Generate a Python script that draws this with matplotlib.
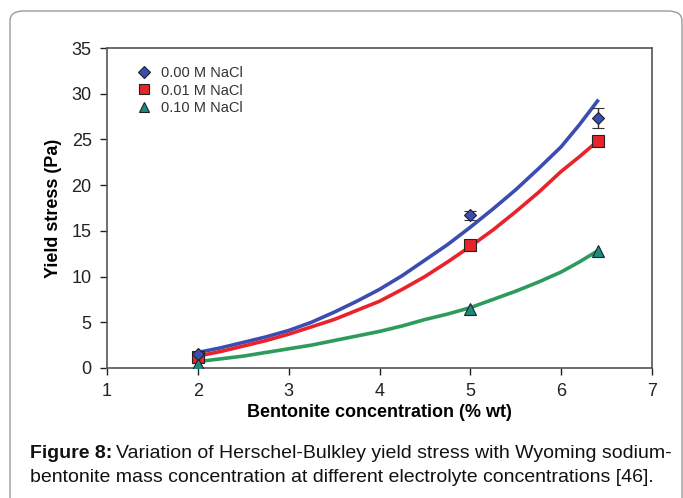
import matplotlib

matplotlib.use("Agg")
import matplotlib.pyplot as plt
from matplotlib.patches import FancyBboxPatch
from matplotlib.lines import Line2D

plt.rcParams["font.family"] = ["Liberation Sans", "DejaVu Sans"]

# measured points (bentonite % wt vs yield stress, Pa)
conc = [2.0, 5.0, 6.4]
ys_000 = [1.5, 16.7, 27.3]
err_000 = [0.3, 0.5, 1.1]
ys_001 = [1.2, 13.5, 24.8]
ys_010 = [0.4, 6.4, 12.8]

# fitted curves
fit_x = [2.0, 2.25, 2.5, 2.75, 3.0, 3.25, 3.5, 3.75, 4.0, 4.25, 4.5, 4.75,
         5.0, 5.25, 5.5, 5.75, 6.0, 6.2, 6.4]
fit_000 = [1.7, 2.2, 2.8, 3.4, 4.1, 5.0, 6.1, 7.3, 8.6, 10.1, 11.8, 13.5,
           15.4, 17.4, 19.5, 21.8, 24.2, 26.6, 29.2]
fit_001 = [1.3, 1.8, 2.4, 3.0, 3.7, 4.5, 5.3, 6.3, 7.3, 8.6, 10.0, 11.6,
           13.3, 15.1, 17.1, 19.2, 21.5, 23.1, 24.8]
fit_010 = [0.7, 1.0, 1.3, 1.7, 2.1, 2.5, 3.0, 3.5, 4.0, 4.6, 5.3, 5.9,
           6.6, 7.5, 8.4, 9.4, 10.5, 11.6, 12.8]

labels = ["0.00 M NaCl", "0.01 M NaCl", "0.10 M NaCl"]

W, H = 683, 498
fig = plt.figure(figsize=(W / 100, H / 100), dpi=100)

# rounded outer frame
frame = FancyBboxPatch((10 / W, -0.1), 672 / W, 1 - 11 / H + 0.1,
                       boxstyle="round,pad=0,rounding_size=0.02",
                       transform=fig.transFigure, fill=False,
                       edgecolor="#9a9a9a", lw=1.0)
fig.patches.append(frame)

ax = fig.add_axes([107 / W, 1 - 368 / H, 545 / W, 320 / H])

ax.plot(fit_x, fit_000, color="#3b4db0", lw=2.6, zorder=2)
ax.plot(fit_x, fit_001, color="#e8232b", lw=2.6, zorder=2)
ax.plot(fit_x, fit_010, color="#2e9a5c", lw=2.6, zorder=2)

ax.errorbar(conc, ys_000, yerr=err_000, fmt="D", ms=6.5, mfc="#3b4db0",
            mec="#222222", mew=0.8, ecolor="#333333", elinewidth=1,
            capsize=4, zorder=3)
ax.plot(conc, ys_001, "s", ms=9, mfc="#e8232b", mec="#222222", mew=0.8,
        zorder=3)
ax.plot(conc, ys_010, "^", ms=9, mfc="#1b8a80", mec="#222222", mew=0.8,
        zorder=3)

ax.set_xlim(1, 7)
ax.set_ylim(0, 35)
ax.set_xticks(range(1, 8))
ax.set_yticks(range(0, 36, 5))
ax.tick_params(direction="out", length=5, width=1, labelsize=13,
               colors="#222222", pad=6)
for s in ax.spines.values():
    s.set_color("#555555")
    s.set_linewidth(1.2)

ax.set_xlabel("Bentonite concentration (% wt)", fontsize=13,
              fontweight="bold", labelpad=3)
ax.set_ylabel("Yield stress (Pa)", fontsize=13, fontweight="bold",
              labelpad=7)

handles = [
    Line2D([], [], ls="none", marker="D", ms=6, mfc="#3b4db0", mec="#222222", mew=0.8),
    Line2D([], [], ls="none", marker="s", ms=7, mfc="#e8232b", mec="#222222", mew=0.8),
    Line2D([], [], ls="none", marker="^", ms=7, mfc="#1b8a80", mec="#222222", mew=0.8),
]
leg = ax.legend(handles, labels, loc="upper left", bbox_to_anchor=(0.03, 0.985),
                frameon=False, fontsize=10.5, handletextpad=0.7,
                labelspacing=0.25, handlelength=1.0)
for t in leg.get_texts():
    t.set_color("#333333")

# caption
cap_size = 14
y1 = 1 - 453 / H
y2 = 1 - 477 / H
t0 = fig.text(30 / W, y1, "Figure 8:", fontsize=cap_size, fontweight="bold",
              va="center", color="#111111")
fig.canvas.draw()
bb = t0.get_window_extent()
fig.text((bb.x1 + 4) / W, y1,
         "Variation of Herschel-Bulkley yield stress with Wyoming sodium-",
         fontsize=cap_size, va="center", color="#111111")
fig.text(30 / W, y2,
         "bentonite mass concentration at different electrolyte concentrations [46].",
         fontsize=cap_size, va="center", color="#111111")

fig.savefig("out.png", dpi=100)
